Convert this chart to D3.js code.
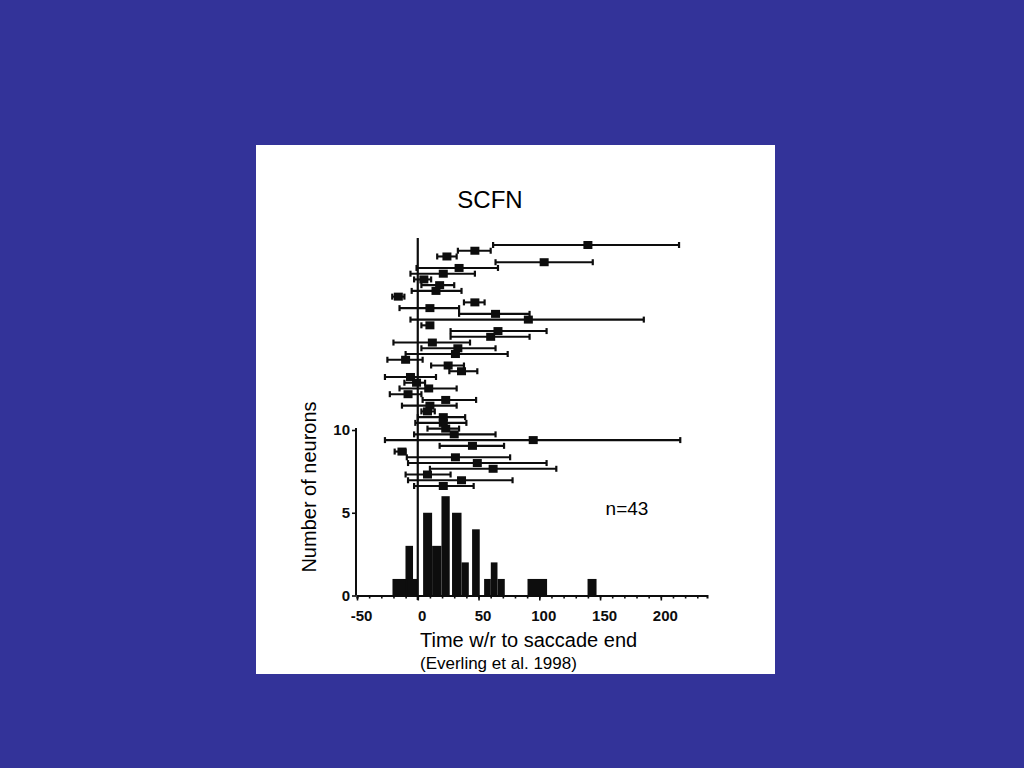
<!DOCTYPE html>
<html>
<head>
<meta charset="utf-8">
<script src="https://cdn.jsdelivr.net/npm/d3@7"></script>
<style>
  html, body { margin: 0; padding: 0; background: #333399; }
  svg { display: block; }
</style>
</head>
<body>
<svg id="chart" width="1024" height="768"></svg>
<script>
// ---- Data ----
// Raster rows (top to bottom): left end, median marker, right end (ms w.r.t. saccade end)
const rowLo  = [62, 33, 16, 64, -1, -6, -3, 3, -5, -21, 38, -15, 34, -6, 3, 27, 27, -20, 3, -10, -25, 11, 26, -27, -11, -15, -23, 4, -13, 3, 0, -2, 8, -3, -27, 18, -19, -9, -8, 10, -10, -8, -3];
const rowMed = [140, 47, 24, 104, 34, 21, 5, 18, 15, -16, 47, 10, 64, 91, 10, 66, 60, 12, 33, 31, -10, 25, 36, -6, -1, 9, -8, 23, 10, 8, 21, 21, 23, 30, 95, 45, -13, 31, 49, 62, 8, 36, 21];
const rowHi  = [215, 60, 32, 144, 66, 47, 11, 30, 36, -11, 55, 34, 92, 186, 12, 106, 92, 43, 64, 74, 4, 38, 49, 15, 6, 32, 3, 48, 32, 14, 39, 40, 34, 64, 216, 71, -10, 76, 106, 114, 27, 78, 46];

// Histogram bars: bin start, bin end (ms), count
const histLo    = [-20.8, -10.1, -8.2, 4.4, 11.8, 19.5, 28.2, 36.0, 44.7, 54.6, 60.1, 65.6, 90.3, 139.7];
const histHi    = [-8.0, -3.9, -0.2, 11.8, 19.5, 26.3, 36.0, 42.0, 51.0, 60.1, 65.6, 71.6, 106.4, 147.1];
const histCount = [1, 3, 1, 5, 3, 6, 5, 2, 4, 1, 2, 1, 1, 1];

const xTicks = [-50, 0, 50, 100, 150, 200];
const yTicks = [0, 5, 10];

const titleText = "SCFN";
const nText = "n=43";
const yLabel = "Number of neurons";
const xLabel = "Time w/r to saccade end";
const sourceText = "(Everling et al. 1998)";

// ---- Drawing ----
const svg = d3.select("#chart");
const font = "'Liberation Sans', Arial, Helvetica, sans-serif";
const ink = "#0d0d0d";

// white panel
svg.append("rect").attr("x", 256).attr("y", 145).attr("width", 519).attr("height", 529).attr("fill", "#fff");

const x = d3.scaleLinear().domain([-50, 238]).range([357, 707]);
const yH = d3.scaleLinear().domain([0, 10]).range([595.5, 430]);
const rowIdx = d3.range(rowMed.length);
const yR = d3.scaleLinear().domain([0, rowMed.length - 1]).range([245, 486]);

// x axis
const xAxisG = svg.append("g").attr("transform", `translate(0,${yH(0)})`);
xAxisG.call(d3.axisBottom(x).tickValues(d3.range(-50, 231, 10)).tickSize(3).tickFormat(""));
xAxisG.select(".domain").attr("stroke", ink).attr("stroke-width", 2);
xAxisG.selectAll(".tick line").attr("stroke", ink).attr("stroke-width", 1.6);
const xLab = svg.append("g").attr("transform", `translate(0,${yH(0)})`);
xLab.call(d3.axisBottom(x).tickValues(xTicks).tickSize(5).tickPadding(10).tickFormat(d3.format("d")));
xLab.select(".domain").remove();
xLab.selectAll(".tick line").attr("stroke", ink).attr("stroke-width", 1.6);
xLab.selectAll(".tick text")
  .attr("font-family", font).attr("font-size", 15).attr("font-weight", "bold")
  .attr("fill", ink).attr("dx", 4).text(d => d < 0 ? "-" + Math.abs(d) : d);

// y axis
const yAxisG = svg.append("g").attr("transform", `translate(356,0)`);
yAxisG.call(d3.axisLeft(yH).tickValues(yTicks).tickSize(4).tickPadding(2).tickFormat(d3.format("d")));
yAxisG.select(".domain").attr("stroke", ink).attr("stroke-width", 2).attr("d", `M0,${yH(0)}V${yH(10) - 2}`);
yAxisG.selectAll(".tick line").attr("stroke", ink).attr("stroke-width", 1.6);
yAxisG.selectAll(".tick text")
  .attr("font-family", font).attr("font-size", 15).attr("font-weight", "bold").attr("fill", ink);

// histogram bars
svg.append("g").selectAll("rect").data(histCount).join("rect")
  .attr("x", (d, i) => x(histLo[i]))
  .attr("width", (d, i) => x(histHi[i]) - x(histLo[i]))
  .attr("y", d => yH(d))
  .attr("height", d => yH(0) - yH(d))
  .attr("fill", ink);

// vertical reference line at 0
svg.append("line")
  .attr("x1", x(0)).attr("x2", x(0))
  .attr("y1", 238).attr("y2", 600)
  .attr("stroke", ink).attr("stroke-width", 2.2);

// raster rows
const rows = svg.append("g");
rows.selectAll("line.range").data(rowIdx).join("line").attr("class", "range")
  .attr("x1", i => x(rowLo[i])).attr("x2", i => x(rowHi[i]))
  .attr("y1", i => yR(i)).attr("y2", i => yR(i))
  .attr("stroke", ink).attr("stroke-width", 2.1);
rows.selectAll("line.capL").data(rowIdx).join("line").attr("class", "capL")
  .attr("x1", i => x(rowLo[i])).attr("x2", i => x(rowLo[i]))
  .attr("y1", i => yR(i) - 3).attr("y2", i => yR(i) + 3)
  .attr("stroke", ink).attr("stroke-width", 2.2);
rows.selectAll("line.capR").data(rowIdx).join("line").attr("class", "capR")
  .attr("x1", i => x(rowHi[i])).attr("x2", i => x(rowHi[i]))
  .attr("y1", i => yR(i) - 3).attr("y2", i => yR(i) + 3)
  .attr("stroke", ink).attr("stroke-width", 2.2);
rows.selectAll("rect").data(rowIdx).join("rect")
  .attr("x", i => x(rowMed[i]) - 4.5)
  .attr("y", i => yR(i) - 4)
  .attr("width", 9).attr("height", 8)
  .attr("fill", ink);

// texts
svg.append("text").attr("x", 490).attr("y", 208).attr("text-anchor", "middle")
  .attr("font-family", font).attr("font-size", 24).attr("fill", "#000").text(titleText);
svg.append("text").attr("x", 627).attr("y", 515).attr("text-anchor", "middle")
  .attr("font-family", font).attr("font-size", 19).attr("fill", "#000").text(nText);
svg.append("text").attr("transform", "translate(316,487) rotate(-90)").attr("text-anchor", "middle")
  .attr("font-family", font).attr("font-size", 20).attr("fill", "#000").text(yLabel);
svg.append("text").attr("x", 420).attr("y", 647)
  .attr("font-family", font).attr("font-size", 20).attr("fill", "#000").text(xLabel);
svg.append("text").attr("x", 420).attr("y", 669)
  .attr("font-family", font).attr("font-size", 17).attr("fill", "#000").text(sourceText);
</script>
</body>
</html>
